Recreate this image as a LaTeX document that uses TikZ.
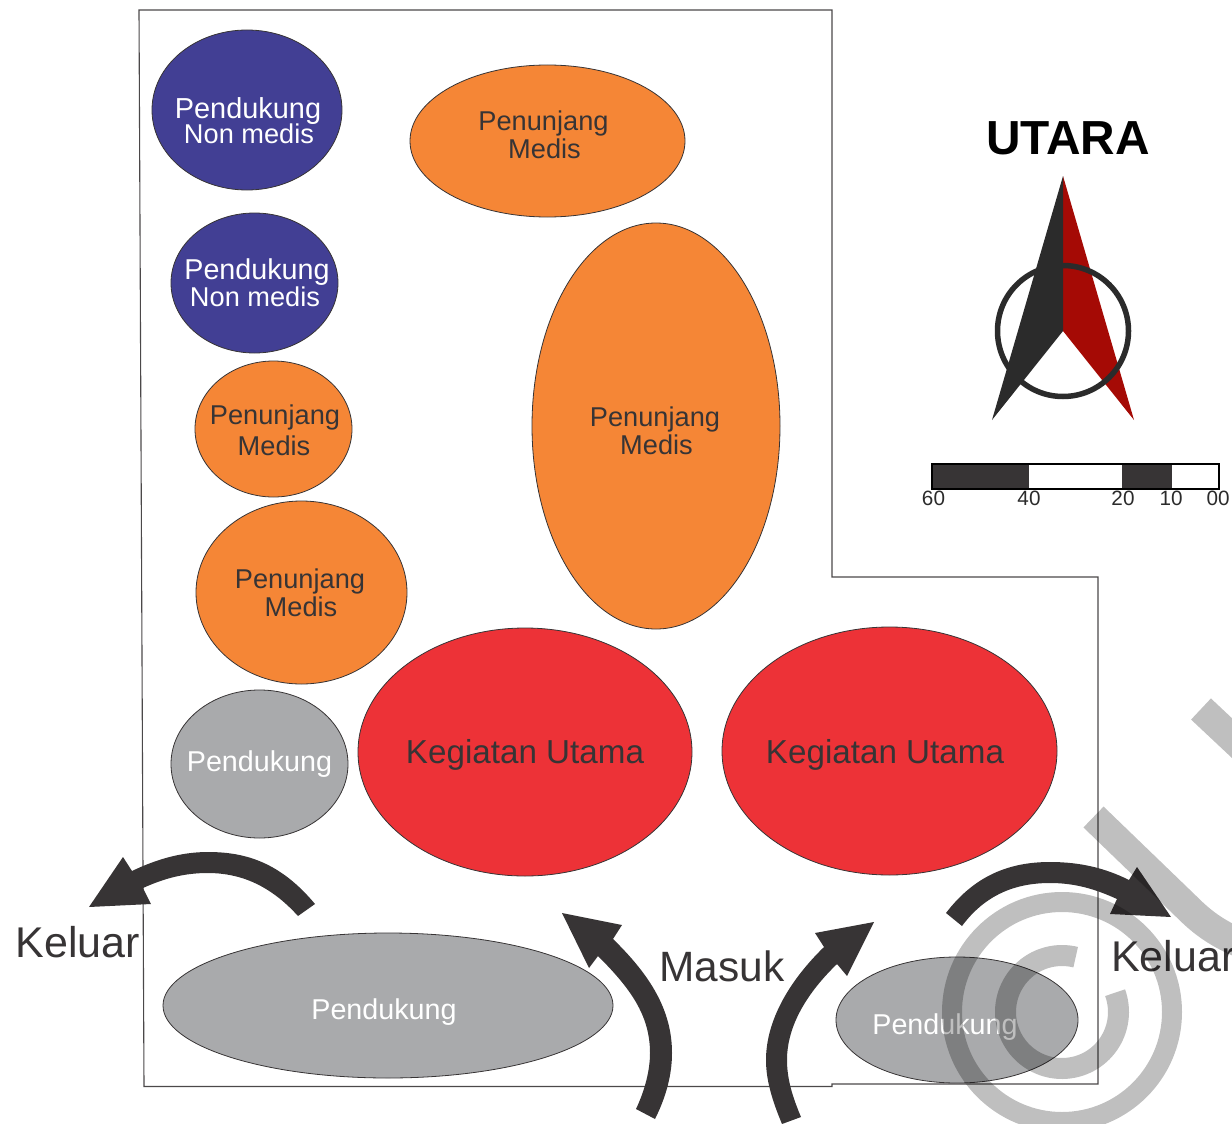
\documentclass[tikz,border=0pt]{standalone}
\usepackage{fontspec}
\setmainfont{Liberation Sans}
\usetikzlibrary{shapes.geometric}
\definecolor{inkdark}{HTML}{373435}
\definecolor{bluefill}{HTML}{423F94}
\definecolor{orangefill}{HTML}{F58636}
\definecolor{redfill}{HTML}{ED3237}
\definecolor{greyfill}{HTML}{A9AAAC}
\definecolor{needleblack}{HTML}{2B2B2B}
\definecolor{needlered}{HTML}{A50A05}
\tikzset{
  zone/.style={ellipse,draw=inkdark,line width=0.8pt,inner sep=0pt,outer sep=0pt},
  bluezone/.style={zone,fill=bluefill},
  orangezone/.style={zone,fill=orangefill},
  redzone/.style={zone,fill=redfill},
  greyzone/.style={zone,fill=greyfill},
  txt/.style={anchor=base,inner sep=0pt,text=inkdark},
  whitetxt/.style={txt,text=white},
  flow/.style={fill=inkdark,draw=none},
  wmark/.style={draw=black,opacity=0.25}
}
\newcommand{\fs}[1]{\fontsize{#1}{#1}\selectfont}
\begin{document}
\begin{tikzpicture}[x=1pt,y=-1pt]
\useasboundingbox (0,0) rectangle (1232,1124);
% site outline
\draw[draw=inkdark!90,line width=1.1pt] (139,10) -- (832,10) -- (832,577) -- (1098,577) -- (1098,1084) -- (832,1084) -- (832,1086.5) -- (144,1086.5) -- cycle;
% zones
\node[bluezone,minimum width=190pt,minimum height=160pt] (b1) at (247,110) {};
\node[bluezone,minimum width=167pt,minimum height=140pt] (b2) at (254.5,283) {};
\node[orangezone,minimum width=157pt,minimum height=136pt] (o1) at (273.5,429) {};
\node[orangezone,minimum width=211pt,minimum height=183pt] (o2) at (301.5,592.5) {};
\node[greyzone,minimum width=177pt,minimum height=148pt] (g1) at (259.5,764) {};
\node[orangezone,minimum width=275pt,minimum height=152pt] (o3) at (547.5,141) {};
\node[orangezone,minimum width=248pt,minimum height=406pt] (o4) at (656,426) {};
\node[redzone,minimum width=334pt,minimum height=248pt] (r1) at (525,752) {};
\node[redzone,minimum width=335pt,minimum height=248pt] (r2) at (889.5,751) {};
\node[greyzone,minimum width=450pt,minimum height=145pt] (g2) at (388,1005.5) {};
\node[greyzone,minimum width=242pt,minimum height=126pt] (g3) at (957,1020) {};
% zone labels
\node[whitetxt,font=\fs{28.9}] (t1) at (248,118) {Pendukung};
\node[whitetxt,font=\fs{27.2}] (t2) at (249,143) {Non medis};
\node[whitetxt,font=\fs{28.7}] (t3) at (257,279) {Pendukung};
\node[whitetxt,font=\fs{27.2}] (t4) at (255,306) {Non medis};
\node[txt,font=\fs{27.2}] (t5) at (275,424) {Penunjang};
\node[txt,font=\fs{27.2}] (t6) at (274,455) {Medis};
\node[txt,font=\fs{27.2}] (t7) at (300,588) {Penunjang};
\node[txt,font=\fs{27.2}] (t8) at (301,616) {Medis};
\node[whitetxt,font=\fs{28.7}] (t9) at (259.5,771) {Pendukung};
\node[txt,font=\fs{27.2}] (t10) at (543.5,130) {Penunjang};
\node[txt,font=\fs{27.2}] (t11) at (544.5,158) {Medis};
\node[txt,font=\fs{27.2}] (t12) at (655,426) {Penunjang};
\node[txt,font=\fs{27.2}] (t13) at (656.5,454) {Medis};
\node[txt,font=\fs{33.2}] (t14) at (525,763) {Kegiatan Utama};
\node[txt,font=\fs{33.2}] (t15) at (885,763) {Kegiatan Utama};
\node[whitetxt,font=\fs{28.7}] (t16) at (384,1019) {Pendukung};
\node[whitetxt,font=\fs{28.7}] (t17) at (945,1034) {Pendukung};
% flow arrows
\fill[flow] (315,904) .. controls (280,862) and (245,852) .. (208,852) .. controls (180,852) and (155,860) .. (132,871) -- (123,857) -- (89,907) -- (151,904) -- (143,888) .. controls (165,878) and (185,873) .. (208,873) .. controls (240,873) and (270,885) .. (298,916) -- cycle;
\fill[flow] (946,913) .. controls (975,875) and (1010,862) .. (1050,862) .. controls (1080,862) and (1105,868) .. (1129,880) -- (1137,867) -- (1171,917) -- (1110,914) -- (1117,899) .. controls (1095,889) and (1075,883) .. (1050,883) .. controls (1015,883) and (985,895) .. (962,926) -- cycle;
\fill[flow] (655,1119) .. controls (666,1097) and (672,1075) .. (672,1053) .. controls (672,1010) and (650,975) .. (613,939) -- (622,925) -- (562,913) -- (589,968) -- (598,956) .. controls (630,988) and (650,1015) .. (650,1053) .. controls (650,1070) and (645,1090) .. (636,1109) -- cycle;
\fill[flow] (782,1124) .. controls (772,1100) and (766,1080) .. (766,1060) .. controls (766,1020) and (790,980) .. (824,947) -- (815,933) -- (874,922) -- (847,976) -- (837,964) .. controls (808,992) and (787,1025) .. (787,1060) .. controls (787,1080) and (793,1098) .. (801,1117) -- cycle;
\node[txt,font=\fs{43}] (k1) at (78,957) {Keluar};
\node[txt,font=\fs{43},anchor=base west] (k2) at (1111,971) {Keluar};
\node[txt,font=\fs{42.4}] (m1) at (722,981) {Masuk};
% north arrow
\node[anchor=base,inner sep=0pt,text=black,font=\fs{47.8}\bfseries] (u) at (1068,154.5) {UTARA};
\coordinate (nc) at (1063,331);
\fill[needlered] (1063,176) -- (1134,420) -- (nc) -- cycle;
\draw[needleblack,line width=5.5pt] (nc) circle[radius=65.5pt];
\fill[needleblack] (1063,176) -- (992,420) -- (nc) -- cycle;
% scale bar
\fill[inkdark] (932,464) rectangle (1029,489);
\fill[inkdark] (1122,464) rectangle (1172,489);
\draw[black,line width=1.3pt] (932,464) rectangle (1219,489);
\node[txt,font=\fs{20.7},text=needleblack] (s60) at (933.5,505.5) {60};
\node[txt,font=\fs{20.7},text=needleblack] (s40) at (1029,505.5) {40};
\node[txt,font=\fs{20.7},text=needleblack] (s20) at (1123,505.5) {20};
\node[txt,font=\fs{20.7},text=needleblack] (s10) at (1171,505.5) {10};
\node[txt,font=\fs{20.7},text=needleblack] (s00) at (1218,505.5) {00};
% watermark
\begin{scope}
\clip (0,0) rectangle (1232,1124);
\draw[wmark,line width=20pt] (1062,1012) circle[radius=110pt];
\draw[wmark,line width=21pt,domain=76:380,samples=90,smooth] plot ({1062+56.5*cos(\x)},{1012-56.5*sin(\x)});
\draw[wmark,line width=29pt] (1093.5,817) -- (1193,913) .. controls (1207,926) and (1222,936) .. (1245,945);
\draw[wmark,line width=29pt] (1201,709) -- (1250,755);
\end{scope}
\end{tikzpicture}
\end{document}
